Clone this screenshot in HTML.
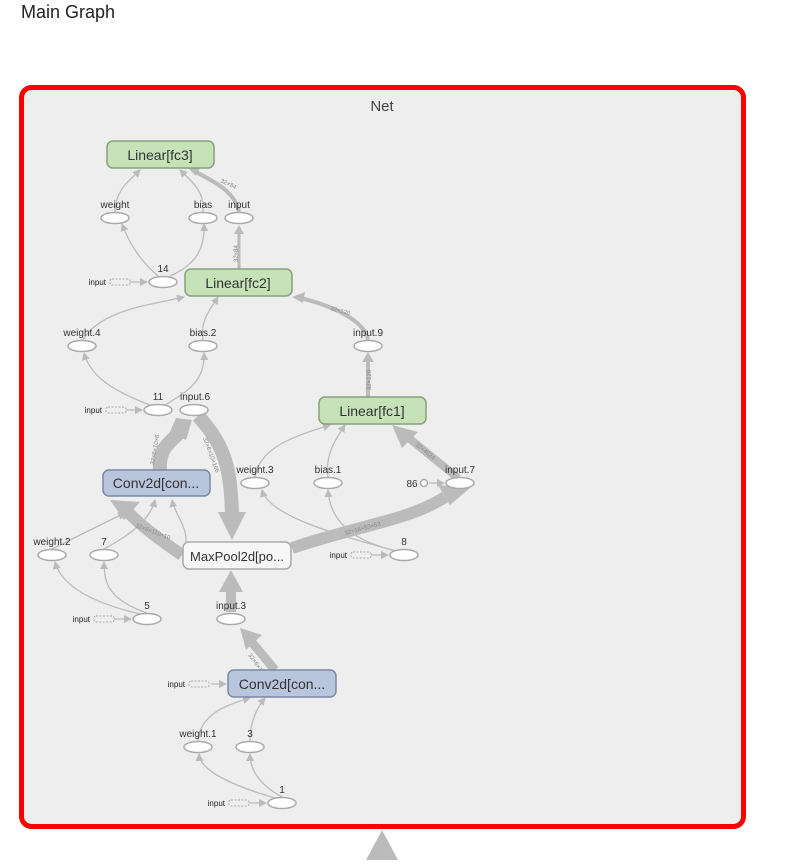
<!DOCTYPE html>
<html><head><meta charset="utf-8"><style>
body{margin:0;background:#fff;width:785px;height:860px;overflow:hidden;font-family:"Liberation Sans",sans-serif}
svg text{font-family:"Liberation Sans",sans-serif}
</style></head><body>
<svg width="785" height="860" viewBox="0 0 785 860">
<defs>
<marker id="ah" markerWidth="8" markerHeight="8" refX="7" refY="4" orient="auto" markerUnits="userSpaceOnUse"><path d="M0,0 L8,4 L0,8 Z" fill="#bbb"/></marker>
</defs>
<text x="21" y="18" font-size="18" fill="#222">Main Graph</text>
<rect x="21.5" y="87.5" width="722" height="739" rx="10" fill="#eee" stroke="#f00" stroke-width="5"/>
<text x="382" y="111" font-size="15" fill="#444" text-anchor="middle">Net</text>

<g fill="none" stroke="#bbb">
<path d="M160,470 C158,445 175,440 183,428" stroke-width="14"/>
<path d="M198,416 C225,445 232,470 232,522" stroke-width="14"/>
<path d="M182,555 C160,540 140,525 128,512" stroke-width="12"/>
<path d="M292,548 C360,525 410,520 445,497" stroke-width="12"/>
<path d="M458,478 L405,435" stroke-width="8"/>
<path d="M231,612 L231,585" stroke-width="10"/>
<path d="M275,670 L250,640" stroke-width="9"/>
<path d="M368,397 L368,360" stroke-width="4"/>
<path d="M368,340 C365,320 330,305 300,298" stroke-width="4"/>
<path d="M239,269 L239,232" stroke-width="3"/>
<path d="M239,212 C235,190 210,180 196,172" stroke-width="4"/>
<path d="M382,860 L382,845" stroke-width="12"/>
</g>
<g fill="#bbb">
<polygon points="176,418 192,420 186,440 170,432"/>
<polygon points="218,512 246,512 232,540"/>
<polygon points="110,500 140,502 124,520"/>
<polygon points="470,488 438,485 450,505"/>
<polygon points="392,425 418,432 402,448"/>
<polygon points="219,592 243,592 231,570"/>
<polygon points="240,628 262,635 246,650"/>
<polygon points="362,362 374,362 368,352"/>
<polygon points="292,297 305,292 303,303"/>
<polygon points="234,234 244,234 239,225"/>
<polygon points="188,168 200,168 196,176"/>
<polygon points="366,860 398,860 382,830"/>
</g>

<g fill="none" stroke="#bbb" stroke-width="1.3" marker-end="url(#ah)">
<path d="M115,212 C115,190 130,180 140,170"/>
<path d="M203,212 C205,190 190,180 180,170"/>
<path d="M158,276 C140,260 130,245 122,224"/>
<path d="M170,276 C195,265 205,250 204,224"/>
<path d="M83,340 C100,310 150,305 184,297"/>
<path d="M203,340 C200,320 210,310 218,297"/>
<path d="M150,405 C110,390 90,375 84,353"/>
<path d="M165,405 C190,390 205,380 204,353"/>
<path d="M255,477 C260,445 300,435 330,425"/>
<path d="M328,477 C325,455 335,440 345,425"/>
<path d="M52,549 C80,535 110,520 125,513"/>
<path d="M104,549 C130,535 150,520 155,500"/>
<path d="M185,546 C190,530 175,515 172,500"/>
<path d="M395,551 C360,540 270,520 262,490"/>
<path d="M396,551 C350,540 330,520 328,490"/>
<path d="M140,614 C80,600 60,580 55,562"/>
<path d="M147,613 C110,600 104,585 104,562"/>
<path d="M275,798 C230,785 200,770 199,754"/>
<path d="M282,797 C260,785 250,770 250,754"/>
<path d="M198,741 C200,715 225,705 250,698"/>
<path d="M250,741 C250,725 255,710 265,698"/>
<path d="M130,282 L147,282"/><path d="M126,410 L142,410"/>
<path d="M371,555 L388,555"/><path d="M114,619 L131,619"/>
<path d="M211,684 L226,684"/><path d="M249,803 L266,803"/>
<path d="M429,483 L444,483"/>
</g>

<g font-size="6" fill="#888">
<text x="220" y="182" transform="rotate(25 220 182)">32×84</text>
<text x="238" y="262" transform="rotate(-90 238 262)">32×84</text>
<text x="330" y="310" transform="rotate(15 330 310)">32×120</text>
<text x="371" y="390" transform="rotate(-90 371 390)">32×120</text>
<text x="415" y="445" transform="rotate(40 415 445)">32×4624</text>
<text x="345" y="535" transform="rotate(-15 345 535)">32×16×53×53</text>
<text x="135" y="527" transform="rotate(20 135 527)">32×6×110×10</text>
<text x="203" y="438" transform="rotate(70 203 438)">32×6×10×106</text>
<text x="154" y="465" transform="rotate(-80 154 465)">32×6×10×6</text>
<text x="248" y="655" transform="rotate(55 248 655)">32×6×1024</text>
</g>

<g stroke="#aaa" stroke-dasharray="2,1.5" fill="none">
<rect x="110" y="279" width="20" height="6" rx="2"/><rect x="106" y="407" width="20" height="6" rx="2"/>
<rect x="351" y="552" width="20" height="6" rx="2"/><rect x="94" y="616" width="20" height="6" rx="2"/>
<rect x="189" y="681" width="20" height="6" rx="2"/><rect x="229" y="800" width="20" height="6" rx="2"/>
</g>
<g font-size="8" fill="#222" text-anchor="end">
<text x="106" y="285">input</text><text x="102" y="413">input</text><text x="347" y="558">input</text>
<text x="90" y="622">input</text><text x="185" y="687">input</text><text x="225" y="806">input</text>
</g>

<g fill="#fff" stroke="#aaa" stroke-width="1.5">
<ellipse cx="115" cy="218" rx="14" ry="5.5"/><ellipse cx="203" cy="218" rx="14" ry="5.5"/><ellipse cx="239" cy="218" rx="14" ry="5.5"/>
<ellipse cx="163" cy="282" rx="14" ry="5.5"/>
<ellipse cx="82" cy="346" rx="14" ry="5.5"/><ellipse cx="203" cy="346" rx="14" ry="5.5"/><ellipse cx="368" cy="346" rx="14" ry="5.5"/>
<ellipse cx="158" cy="410" rx="14" ry="5.5"/><ellipse cx="194" cy="410" rx="14" ry="5.5"/>
<ellipse cx="255" cy="483" rx="14" ry="5.5"/><ellipse cx="328" cy="483" rx="14" ry="5.5"/><ellipse cx="460" cy="483" rx="14" ry="5.5"/>
<circle cx="424" cy="483" r="3.5"/>
<ellipse cx="52" cy="555" rx="14" ry="5.5"/><ellipse cx="104" cy="555" rx="14" ry="5.5"/><ellipse cx="404" cy="555" rx="14" ry="5.5"/>
<ellipse cx="147" cy="619" rx="14" ry="5.5"/><ellipse cx="231" cy="619" rx="14" ry="5.5"/>
<ellipse cx="198" cy="747" rx="14" ry="5.5"/><ellipse cx="250" cy="747" rx="14" ry="5.5"/>
<ellipse cx="282" cy="803" rx="14" ry="5.5"/>
</g>
<g font-size="10" fill="#333" text-anchor="middle">
<text x="115" y="208">weight</text><text x="203" y="208">bias</text><text x="239" y="208">input</text>
<text x="163" y="272">14</text>
<text x="82" y="336">weight.4</text><text x="203" y="336">bias.2</text><text x="368" y="336">input.9</text>
<text x="158" y="400">11</text><text x="195" y="400">input.6</text>
<text x="255" y="473">weight.3</text><text x="328" y="473">bias.1</text><text x="460" y="473">input.7</text>
<text x="412" y="487">86</text>
<text x="52" y="545">weight.2</text><text x="104" y="545">7</text><text x="404" y="545">8</text>
<text x="147" y="609">5</text><text x="231" y="609">input.3</text>
<text x="198" y="737">weight.1</text><text x="250" y="737">3</text>
<text x="282" y="793">1</text>
</g>

<g stroke-width="1.5">
<rect x="107" y="141" width="107" height="27" rx="6" fill="#c6e2b9" stroke="#8a9f7c"/>
<rect x="185" y="269" width="107" height="27" rx="6" fill="#c6e2b9" stroke="#8a9f7c"/>
<rect x="319" y="397" width="107" height="27" rx="6" fill="#c6e2b9" stroke="#8a9f7c"/>
<rect x="103" y="470" width="107" height="26" rx="6" fill="#b9c5dd" stroke="#7c88a4"/>
<rect x="183" y="542" width="108" height="27" rx="6" fill="#f6f6f6" stroke="#aaa"/>
<rect x="228" y="670" width="108" height="27" rx="6" fill="#b9c5dd" stroke="#7c88a4"/>
</g>
<g font-size="14" fill="#333" text-anchor="middle">
<text x="160" y="160">Linear[fc3]</text>
<text x="238" y="288">Linear[fc2]</text>
<text x="372" y="416">Linear[fc1]</text>
<text x="156" y="488">Conv2d[con...</text>
<text x="237" y="561" font-size="13">MaxPool2d[po...</text>
<text x="282" y="689">Conv2d[con...</text>
</g>
</svg>
</body></html>
